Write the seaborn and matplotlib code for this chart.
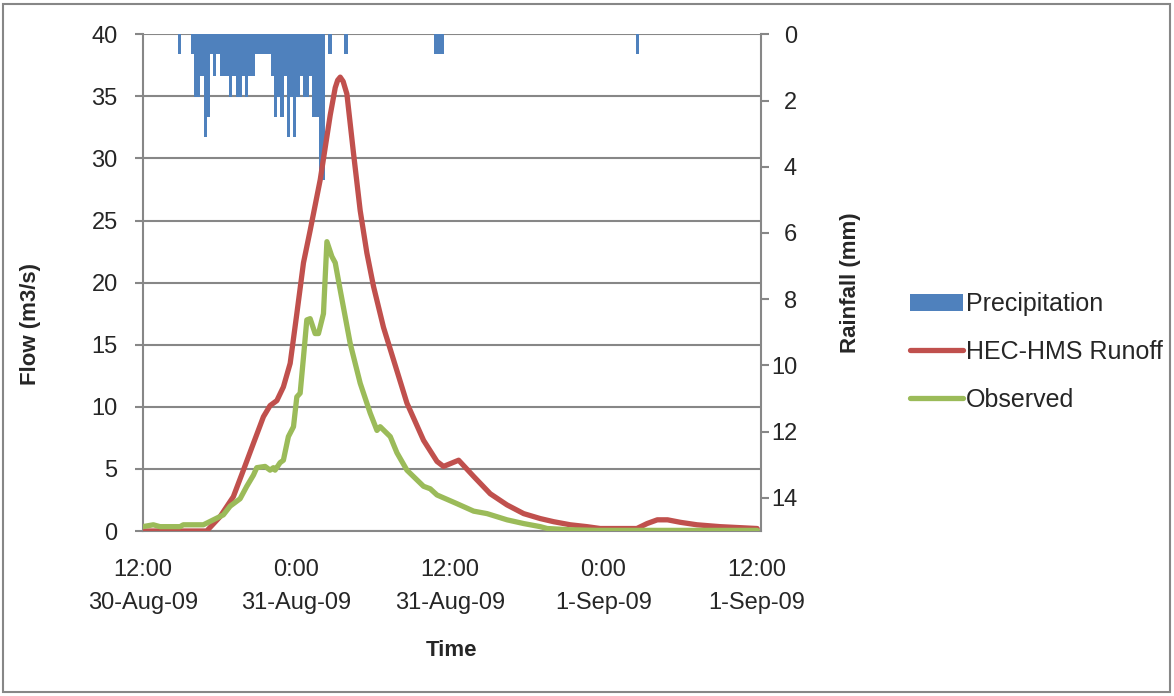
import matplotlib
matplotlib.use("Agg")
import matplotlib.pyplot as plt
from matplotlib.patches import Rectangle
import numpy as np
import pandas as pd
import seaborn as sns

# Simulated runoff (HEC-HMS), hours after 12:00 30-Aug-09 and flow in m3/s
hms_hours = [0.0, 5.0, 6.04, 7.08, 7.87, 8.65, 9.43, 9.95, 10.48, 10.99, 11.52,
             12.04, 12.56, 13.08, 13.87, 14.65, 15.04, 15.23, 15.43, 15.66,
             15.95, 16.47, 16.99, 17.51, 18.03, 18.81, 19.59, 20.64, 21.94,
             22.99, 23.5, 24.68, 25.85, 27.15, 28.46, 29.76, 31.06, 32.1,
             33.4, 34.7, 35.74, 38.6, 39.4, 40.2, 41.0, 42.0, 43.3, 45.1, 48.0]
hms_flow = [0.0, 0.0, 1.15, 2.76, 4.91, 7.06, 9.2, 10.1, 10.5, 11.6, 13.5,
            17.5, 21.6, 24.2, 28.3, 33.5, 35.7, 36.3, 36.55, 36.2,
            35.2, 30.4, 25.8, 22.4, 19.7, 16.4, 13.8, 10.3, 7.3,
            5.6, 5.2, 5.7, 4.4, 3.0, 2.1, 1.4, 1.0, 0.75,
            0.5, 0.35, 0.2, 0.2, 0.6, 0.9, 0.9, 0.7, 0.5, 0.35, 0.2]

# Observed flow at the gauge
obs_hours = [0.0, 0.83, 1.35, 2.92, 3.17, 4.74, 5.52, 6.3, 6.83, 7.61, 8.13,
             8.65, 8.91, 9.56, 9.95, 10.21, 10.34, 10.73, 10.99, 11.38, 11.78,
             12.04, 12.3, 12.56, 12.82, 13.08, 13.47, 13.73, 14.12, 14.39,
             14.78, 15.04, 15.43, 16.21, 16.99, 17.77, 18.3, 18.55, 19.34,
             19.86, 20.64, 21.94, 22.46, 22.99, 24.55, 25.85, 26.9, 28.46,
             29.76, 31.06, 31.6, 33.4, 35.5, 48.0]
obs_flow = [0.35, 0.5, 0.35, 0.35, 0.5, 0.5, 0.9, 1.3, 2.0, 2.6, 3.6,
            4.5, 5.1, 5.2, 4.9, 5.1, 4.9, 5.5, 5.7, 7.6, 8.4,
            10.8, 11.1, 14.0, 17.0, 17.1, 15.9, 15.9, 17.5, 23.3,
            22.1, 21.6, 19.4, 15.1, 11.9, 9.5, 8.1, 8.4, 7.6,
            6.3, 4.9, 3.6, 3.4, 2.9, 2.2, 1.6, 1.4, 0.9,
            0.6, 0.35, 0.2, 0.1, 0.05, 0.05]

# 15-minute rainfall: start of each interval (hours) and depth (mm)
rain_hour = [2.75, 3.75, 4.0, 4.25, 4.5, 4.75, 5.0, 5.25, 5.5, 5.75, 6.0,
             6.25, 6.5, 6.75, 7.0, 7.25, 7.5, 7.75, 8.0, 8.25, 8.5, 8.75,
             9.0, 9.25, 9.5, 9.75, 10.0, 10.25, 10.5, 10.75, 11.0, 11.25,
             11.5, 11.75, 12.0, 12.25, 12.5, 12.75, 13.0, 13.25, 13.5, 13.75,
             14.0, 14.5, 15.75, 22.75, 23.0, 23.25, 38.5]
rain_mm = [0.6, 0.6, 1.9, 1.9, 1.25, 3.1, 2.5, 0.6, 1.25, 0.6, 1.25,
           1.25, 1.25, 1.9, 1.25, 1.9, 1.9, 1.25, 1.9, 1.25, 1.25, 0.6,
           0.6, 0.6, 0.6, 0.6, 1.25, 2.5, 1.9, 2.5, 1.25, 3.1,
           1.9, 3.1, 1.9, 1.25, 1.9, 1.9, 1.25, 2.5, 2.5, 4.4,
           4.4, 0.6, 0.6, 0.6, 0.6, 0.6, 0.6]

tick_hours = [0, 12, 24, 36, 48]
tick_labels = ["12:00\n30-Aug-09", "0:00\n31-Aug-09", "12:00\n31-Aug-09",
               "0:00\n1-Sep-09", "12:00\n1-Sep-09"]

BLUE = "#4F81BD"
RED = "#C0504D"
GREEN = "#9BBB59"
GREY = "#878787"
TEXT = "#262626"

sns.set_theme(style="white")
plt.rcParams["font.family"] = ["Liberation Sans", "DejaVu Sans"]
plt.rcParams["text.color"] = TEXT
plt.rcParams["axes.labelcolor"] = TEXT
plt.rcParams["xtick.color"] = TEXT
plt.rcParams["ytick.color"] = TEXT

W, H = 1174, 696
fig = plt.figure(figsize=(W / 100, H / 100), dpi=100)
fig.patch.set_facecolor("white")

x0, x1, ytop, ybot = 142.7, 761.0, 34.3, 531.0
rect = [x0 / W, 1 - ybot / H, (x1 - x0) / W, (ybot - ytop) / H]

# Primary axis: flow scale with gridlines
ax = fig.add_axes(rect)
ax.set_xlim(0, 48.3)
ax.set_ylim(0, 40)
ax.set_yticks(np.arange(0, 41, 5))
ax.yaxis.grid(True, color=GREY, linewidth=1.5)
ax.set_xticks(tick_hours)
ax.set_xticklabels(tick_labels, fontsize=17, linespacing=1.65)
ax.tick_params(axis="y", direction="out", length=6, width=1.5, color=GREY,
               labelsize=17, pad=12)
ax.tick_params(axis="x", direction="in", length=5, width=1.5, color=GREY, pad=20)
for side in ("top", "right"):
    ax.spines[side].set_visible(False)
for side in ("left", "bottom"):
    ax.spines[side].set_color(GREY)
    ax.spines[side].set_linewidth(1.5)
ax.set_xlabel("Time", fontsize=16, fontweight="bold")
ax.xaxis.set_label_coords(0.5, -0.2396)
ax.xaxis.label.set_va("center")
ax.set_ylabel("Flow (m3/s)", fontsize=16, fontweight="bold")
ax.yaxis.set_label_coords(-0.182, 0.417)
ax.yaxis.label.set_va("center")

# Secondary axis: rainfall hanging from the top
ax2 = ax.twinx()
ax2.bar(rain_hour, rain_mm, width=0.25, align="edge", color=BLUE,
        linewidth=0, label="Precipitation")
ax2.set_ylim(15, 0)
ax2.set_yticks(np.arange(0, 15, 2))
ax2.tick_params(axis="y", direction="out", length=6, width=1.5, color=GREY,
                labelsize=17, pad=20)
for lab in ax2.get_yticklabels():
    lab.set_ha("right")
for side in ("top", "left", "bottom"):
    ax2.spines[side].set_visible(False)
ax2.spines["right"].set_color(GREY)
ax2.spines["right"].set_linewidth(1.5)
ax2.set_ylabel("Rainfall (mm)", fontsize=16, fontweight="bold")
ax2.yaxis.set_label_coords(1.144, 0.5)
ax2.yaxis.label.set_va("center")
ax2.yaxis.label.set_rotation(90)

# Top layer: the two hydrographs on the flow scale
ax3 = ax.twinx()
ax3.set_ylim(0, 40)
ax3.set_xlim(0, 48.3)
ax3.axis("off")
hms = pd.DataFrame({"hours": hms_hours, "flow": hms_flow})
obs = pd.DataFrame({"hours": obs_hours, "flow": obs_flow})
sns.lineplot(data=hms, x="hours", y="flow", ax=ax3, color=RED, linewidth=3.8,
             label="HEC-HMS Runoff", legend=False, solid_joinstyle="round",
             solid_capstyle="round")
sns.lineplot(data=obs, x="hours", y="flow", ax=ax3, color=GREEN, linewidth=3.8,
             label="Observed", legend=False, solid_joinstyle="round",
             solid_capstyle="round")

handles = ax2.get_legend_handles_labels()[0] + ax3.get_legend_handles_labels()[0]
labels = ["Precipitation", "HEC-HMS Runoff", "Observed"]
fig.legend(handles, labels, loc="center left", bbox_to_anchor=(0.756, 0.494),
           frameon=False, fontsize=18, handlelength=2.1, handletextpad=0.15,
           labelspacing=0.95)

# Chart-area border
fig.patches.append(Rectangle((3 / W, 4 / H), 1167 / W, 688 / H,
                             transform=fig.transFigure, fill=False,
                             edgecolor=GREY, linewidth=1.5))

fig.savefig("out.png", dpi=100, facecolor="white")
